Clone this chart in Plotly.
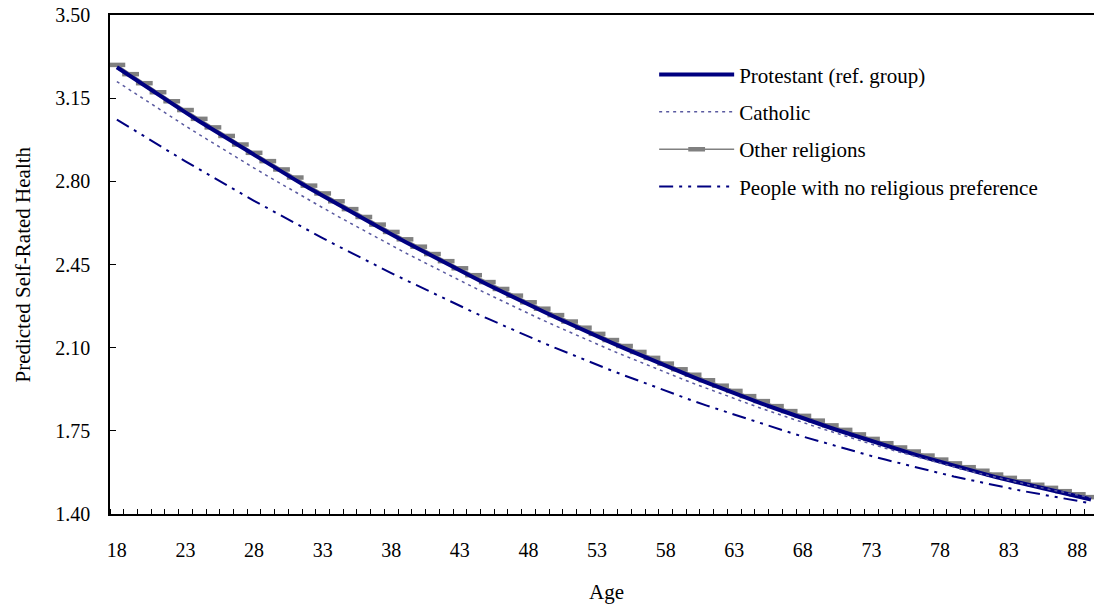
import plotly.graph_objects as go

ages = list(range(18, 90))

protestant = [
    3.280, 3.241, 3.203, 3.165, 3.127, 3.090, 3.053, 3.017, 2.981, 2.945,
    2.910, 2.875, 2.840, 2.806, 2.772, 2.739, 2.706, 2.673, 2.640, 2.608,
    2.577, 2.546, 2.515, 2.484, 2.454, 2.424, 2.395, 2.366, 2.337, 2.309,
    2.281, 2.254, 2.227, 2.200, 2.174, 2.148, 2.122, 2.097, 2.072, 2.047,
    2.023, 1.999, 1.976, 1.953, 1.930, 1.908, 1.886, 1.865, 1.844, 1.823,
    1.803, 1.783, 1.763, 1.744, 1.725, 1.706, 1.688, 1.670, 1.653, 1.636,
    1.619, 1.603, 1.587, 1.572, 1.556, 1.542, 1.527, 1.513, 1.500, 1.486,
    1.473, 1.461]

catholic = [
    3.220, 3.182, 3.144, 3.107, 3.070, 3.033, 2.997, 2.961, 2.926, 2.891,
    2.856, 2.822, 2.788, 2.755, 2.721, 2.689, 2.656, 2.624, 2.593, 2.562,
    2.531, 2.500, 2.470, 2.441, 2.411, 2.383, 2.354, 2.326, 2.298, 2.271,
    2.244, 2.217, 2.191, 2.165, 2.140, 2.115, 2.090, 2.066, 2.042, 2.018,
    1.995, 1.973, 1.950, 1.928, 1.907, 1.885, 1.865, 1.844, 1.824, 1.804,
    1.785, 1.766, 1.748, 1.729, 1.712, 1.694, 1.677, 1.661, 1.645, 1.629,
    1.613, 1.598, 1.583, 1.569, 1.555, 1.542, 1.529, 1.516, 1.503, 1.491,
    1.480, 1.469]

other_religions = [
    3.290, 3.251, 3.213, 3.175, 3.137, 3.100, 3.063, 3.027, 2.991, 2.955,
    2.920, 2.885, 2.850, 2.816, 2.782, 2.749, 2.716, 2.683, 2.650, 2.618,
    2.587, 2.556, 2.525, 2.494, 2.464, 2.434, 2.405, 2.376, 2.347, 2.319,
    2.291, 2.264, 2.237, 2.210, 2.184, 2.158, 2.132, 2.107, 2.082, 2.057,
    2.033, 2.009, 1.986, 1.963, 1.940, 1.918, 1.896, 1.875, 1.854, 1.833,
    1.813, 1.793, 1.773, 1.754, 1.735, 1.716, 1.698, 1.680, 1.663, 1.646,
    1.629, 1.613, 1.597, 1.582, 1.566, 1.552, 1.537, 1.523, 1.510, 1.496,
    1.483, 1.471]

no_religion = [
    3.060, 3.024, 2.989, 2.954, 2.919, 2.884, 2.850, 2.817, 2.784, 2.751,
    2.718, 2.686, 2.654, 2.623, 2.592, 2.561, 2.531, 2.501, 2.472, 2.443,
    2.414, 2.386, 2.358, 2.330, 2.303, 2.276, 2.249, 2.223, 2.197, 2.172,
    2.147, 2.122, 2.098, 2.074, 2.051, 2.028, 2.005, 1.983, 1.961, 1.939,
    1.918, 1.897, 1.876, 1.856, 1.837, 1.817, 1.798, 1.780, 1.761, 1.744,
    1.726, 1.709, 1.692, 1.676, 1.660, 1.644, 1.629, 1.614, 1.600, 1.586,
    1.572, 1.558, 1.545, 1.533, 1.521, 1.509, 1.497, 1.486, 1.475, 1.465,
    1.455, 1.445]

x_tick_vals = [18, 23, 28, 33, 38, 43, 48, 53, 58, 63, 68, 73, 78, 83, 88]
y_tick_vals = [1.40, 1.75, 2.10, 2.45, 2.80, 3.15, 3.50]
y_tick_text = ["1.40", "1.75", "2.10", "2.45", "2.80", "3.15", "3.50"]

FONT = "Liberation Serif, Times New Roman, serif"
NAVY = "#000080"

fig = go.Figure()

fig.add_trace(go.Scatter(
    x=ages, y=other_religions, name="Other religions", mode="lines+markers",
    line=dict(color="#808080", width=1.5),
    marker=dict(symbol="line-ew", size=12, line=dict(color="#808080", width=4.5)),
    legendrank=3, legendgroup="c"))
fig.add_trace(go.Scatter(
    x=ages, y=protestant, name="Protestant (ref. group)", mode="lines",
    line=dict(color=NAVY, width=4), legendrank=1, legendgroup="a"))
fig.add_trace(go.Scatter(
    x=ages, y=catholic, name="Catholic", mode="lines",
    line=dict(color="#5A5AA0", width=1.5, dash="3px,4px"),
    legendrank=2, legendgroup="b"))
fig.add_trace(go.Scatter(
    x=ages, y=no_religion, name="People with no religious preference", mode="lines",
    line=dict(color=NAVY, width=2, dash="14px,6px,3px,6px,3px,6px"),
    legendrank=4, legendgroup="d"))

fig.update_layout(
    width=1094, height=609,
    margin=dict(l=110, r=0, t=15, b=95),
    paper_bgcolor="white", plot_bgcolor="white",
    font=dict(family=FONT, size=20, color="black"),
    showlegend=True,
    legend=dict(x=0.553, y=0.921, xanchor="left", yanchor="top",
                bgcolor="rgba(0,0,0,0)", font=dict(family=FONT, size=21),
                itemwidth=75, traceorder="grouped", tracegroupgap=7),
    xaxis=dict(range=[17.5, 89.22], tickmode="array", tickvals=x_tick_vals,
               ticks="", showgrid=False, zeroline=False,
               showline=True, linecolor="black", linewidth=1.5, mirror=True,
               ticklabelstandoff=17,
               tickfont=dict(family=FONT, size=20),
               minor=dict(tickmode="array",
                          tickvals=[a - 0.5 for a in ages] + [89.5],
                          ticks="inside", ticklen=5, tickwidth=1,
                          tickcolor="black", showgrid=False)),
    yaxis=dict(range=[1.40, 3.50], tickmode="array", tickvals=y_tick_vals,
               ticktext=y_tick_text, ticks="inside", ticklen=6, tickwidth=1,
               tickcolor="black", showgrid=False, zeroline=False,
               showline=True, linecolor="black", linewidth=1.5,
               ticklabelstandoff=14,
               tickfont=dict(family=FONT, size=20)),
    annotations=[
        dict(text="Age", xref="paper", yref="paper", x=0.505, y=-0.156,
             xanchor="center", yanchor="middle",
             showarrow=False, font=dict(family=FONT, size=21)),
        dict(text="Predicted Self-Rated Health", xref="paper", yref="paper",
             x=-0.0894, y=0.5, xanchor="center", yanchor="middle",
             textangle=-90, showarrow=False,
             font=dict(family=FONT, size=21)),
    ],
)

fig.write_html("out.html", config={"displayModeBar": False},
               post_script="document.body.style.margin='0px';")
